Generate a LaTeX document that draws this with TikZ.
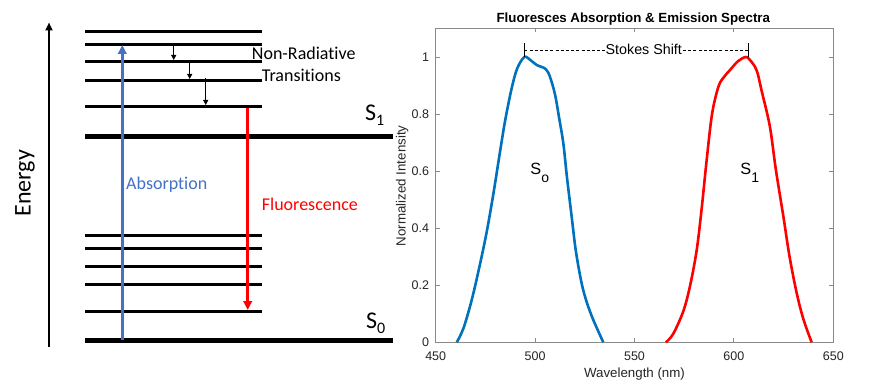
\documentclass[tikz,border=0pt]{standalone}
\usepackage{fontspec}
\setmainfont{Carlito}[Ligatures={NoCommon}]
\newfontfamily\arialf{Liberation Sans}
\usetikzlibrary{arrows.meta}
\definecolor{absblue}{HTML}{4472C4}
\definecolor{mblue}{HTML}{0072BD}
\definecolor{axgray}{HTML}{8A8A8A}
\definecolor{ticktxt}{HTML}{262626}
\begin{document}
\begin{tikzpicture}[x=1pt,y=-1pt,
  level/.style={line width=3pt},
  mainlevel/.style={line width=5pt},
  lbl/.style={inner sep=0pt, font=\fontsize{18}{18}\selectfont},
  biglbl/.style={inner sep=0pt, font=\fontsize{24}{24}\selectfont},
  nrarrow/.style={line width=0.8pt, -{Triangle[length=5pt,width=5pt]}},
  absarrow/.style={absblue, line width=3.2pt, -{Triangle[length=9pt,width=8.5pt]}},
  fluarrow/.style={red, line width=3.2pt, -{Triangle[length=9pt,width=8.5pt]}},
  axline/.style={axgray, line width=0.9pt},
  ticklbl/.style={inner sep=0pt, text=ticktxt, font=\arialf\fontsize{12.5}{12.5}\selectfont},
  axlbl/.style={inner sep=0pt, text=ticktxt, font=\arialf\fontsize{13.3}{13.3}\selectfont},
  plotlbl/.style={inner sep=0pt, font=\arialf\fontsize{16.3}{16.3}\selectfont},
  sublbl/.style={inner sep=0pt, font=\arialf\fontsize{14}{14}\selectfont}]
\useasboundingbox (0,0) rectangle (882,385);
\fill[white] (0,0) rectangle (882,385);

% ---------- Jablonski diagram ----------
\coordinate (eBot) at (49,347);
\coordinate (eTop) at (49,22.5);
\draw[line width=2pt, -{Triangle[length=8pt,width=7pt]}] (eBot) -- (eTop);
\node[biglbl, rotate=90, anchor=base] (energy) at (30.7,183.3) {Energy};

\foreach \yy in {31.5,44.5,61.5,80.5,106.5,235.5,248.5,266.5,284.5,311.5}
  \draw[level] (85,\yy) -- (262,\yy);
\draw[mainlevel] (85,136.5) -- (393,136.5);
\draw[mainlevel] (85,340.5) -- (393,340.5);

\coordinate (absStart) at (122.3,340.3);
\coordinate (absEnd) at (122.3,45);
\draw[absarrow] (absStart) -- (absEnd);

\coordinate (fluStart) at (247.7,108);
\coordinate (fluEnd) at (247.7,310);
\draw[fluarrow] (fluStart) -- (fluEnd);

\coordinate (nr1a) at (173.7,46);
\coordinate (nr1b) at (173.7,60);
\coordinate (nr2a) at (189.7,63);
\coordinate (nr2b) at (189.7,79);
\coordinate (nr3a) at (205.7,78);
\coordinate (nr3b) at (205.7,105);
\draw[nrarrow] (nr1a) -- (nr1b);
\draw[nrarrow] (nr2a) -- (nr2b);
\draw[nrarrow] (nr3a) -- (nr3b);

\node[lbl, anchor=base west] (nrA) at (251.7,59.3) {Non-Radiative};
\node[lbl, anchor=base west] (nrB) at (261.7,81.7) {Transitions};
\node[lbl, anchor=base west, text=absblue] (abs) at (126,189.3) {Absorption};
\node[lbl, anchor=base west, text=red] (flu) at (261.7,210.7) {Fluorescence};
\node[biglbl, anchor=base west] (s1) at (365,121) {S\raisebox{-5pt}{\fontsize{16}{16}\selectfont 1}};
\node[biglbl, anchor=base west] (s0) at (366,328) {S\raisebox{-5pt}{\fontsize{16}{16}\selectfont 0}};

% ---------- Spectra plot ----------
\node[inner sep=0pt, anchor=base, font=\arialf\bfseries\fontsize{13.3}{13.3}\selectfont] (title) at (633.3,22.7) {Fluoresces Absorption \& Emission Spectra};
\node[axlbl, anchor=base] (xlab) at (634.5,377) {Wavelength (nm)};
\node[axlbl, anchor=base, rotate=90] (ylab) at (405.5,185.8) {Normalized Intensity};

\begin{scope}[shift={(435.7,342.3)}, x=1.988pt, y=285.3pt]
  \draw[axline] (0,0) rectangle (200,1.1);
  \foreach \v in {0,0.2,0.4,0.6,0.8,1} {
    \draw[axline] (0,\v) -- ++(4pt,0);
    \draw[axline] (200,\v) -- ++(-4pt,0);
    \node[ticklbl, anchor=east] at ([xshift=-6.4pt]0,\v) {\v};
  }
  \foreach \xx/\n in {0/450,50/500,100/550,150/600,200/650} {
    \draw[axline] (\xx,0) -- ++(0,4pt);
    \draw[axline] (\xx,1.1) -- ++(0,-4pt);
    \node[ticklbl, anchor=base] at ([yshift=-17.7pt]\xx,0) {\n};
  }
  \draw[mblue, line width=2.6pt, line join=round] plot[smooth, tension=0.55] coordinates {
    (10.6,0) (14,0.05) (18.1,0.148) (22,0.265) (25.6,0.385) (29,0.52) (32.4,0.67)
    (35,0.78) (38.2,0.89) (41,0.96) (44.6,1.0) (47.5,0.99) (50.8,0.972) (55.3,0.958)
    (57.5,0.93) (60,0.869) (62,0.79) (64.2,0.697) (66,0.58) (68.4,0.44) (70.5,0.32)
    (73.4,0.207) (76,0.14) (79.3,0.078) (84.3,0)};
  \draw[red, line width=2.6pt, line join=round] plot[smooth, tension=0.55] coordinates {
    (115.8,0) (119.5,0.03) (124.6,0.11) (128,0.2) (131.3,0.324) (133.8,0.47) (136.3,0.639)
    (139,0.8) (142.2,0.896) (145,0.93) (148,0.954) (152,0.985) (155.9,1.0) (158,0.99)
    (161.4,0.954) (164,0.88) (168.1,0.756) (171,0.61) (174.9,0.44) (178,0.3) (181.6,0.172)
    (185,0.08) (189.1,0)};
\end{scope}

\node[plotlbl, anchor=base west] (so) at (530.2,174.3) {S\raisebox{-8pt}{\fontsize{14}{14}\selectfont o}};
\node[plotlbl, anchor=base west] (s1p) at (740.2,174.3) {S\raisebox{-8pt}{\fontsize{14}{14}\selectfont 1}};

\coordinate (t1top) at (524.3,43.3);
\coordinate (t1bot) at (524.3,57.3);
\coordinate (t1mid) at (524.3,50);
\coordinate (t2top) at (748.3,43.3);
\coordinate (t2bot) at (748.3,57.3);
\coordinate (t2mid) at (748.3,50);
\draw[line width=0.9pt] (t1top) -- (t1bot);
\draw[line width=0.9pt] (t2top) -- (t2bot);
\node[inner sep=0pt, anchor=base, font=\arialf\fontsize{14.3}{14.3}\selectfont] (stokes) at (643.8,54.3) {Stokes Shift};
\draw[line width=0.9pt, dash pattern=on 3pt off 2.2pt] (t1mid) -- (t1mid -| stokes.west);
\draw[line width=0.9pt, dash pattern=on 3pt off 2.2pt] (t2mid) -- (t2mid -| stokes.east);
\end{tikzpicture}
\end{document}
